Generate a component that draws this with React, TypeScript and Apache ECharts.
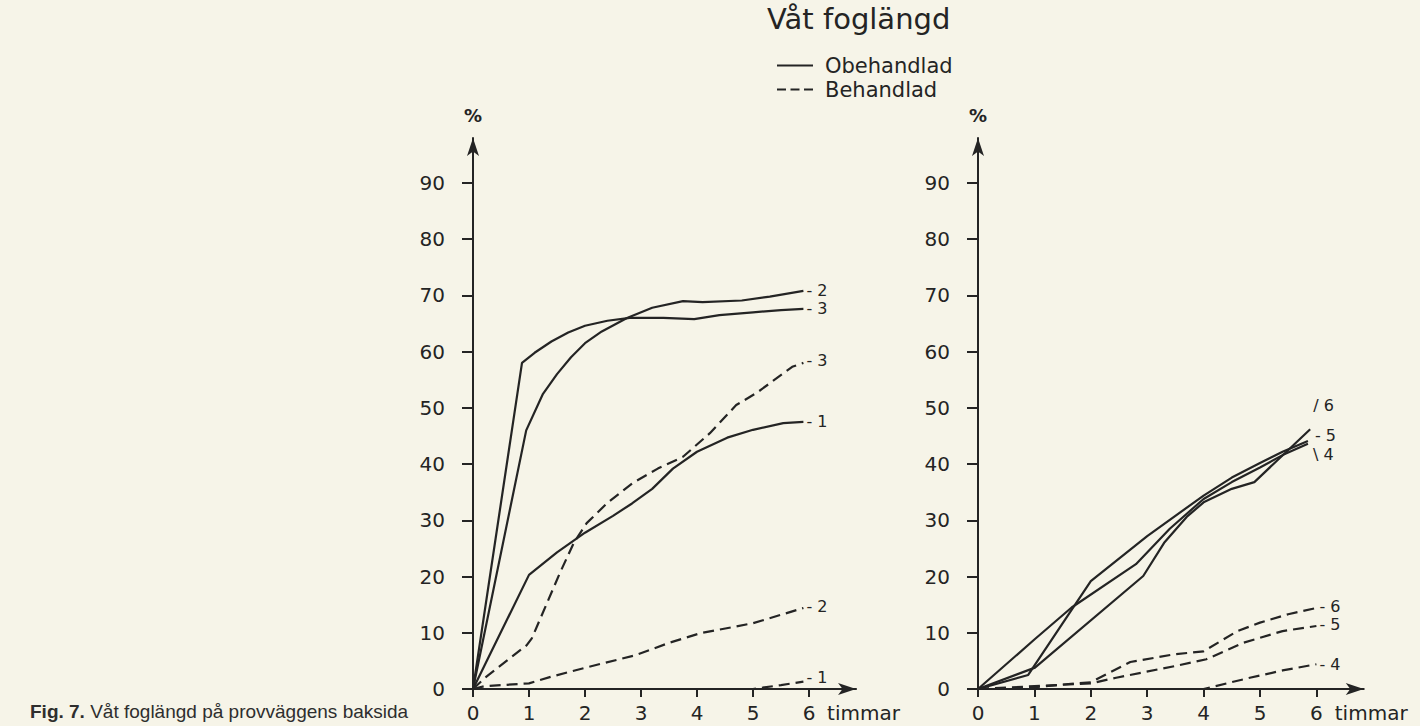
import { useEffect, useRef } from "react";
import * as echarts from "echarts";

// ---------- data (hours, percent) ----------
const hourTicks = [0, 1, 2, 3, 4, 5, 6];
const pctTicks = [0, 10, 20, 30, 40, 50, 60, 70, 80, 90];

// Left panel – Obehandlad (solid)
const leftSolid1 = [[0, 0], [1.0, 20.3], [1.5, 24.3], [2.0, 27.8], [2.5, 30.8], [2.84, 33], [3.2, 35.6], [3.57, 39.2], [4.0, 42.2], [4.54, 44.7], [5.0, 46.1], [5.54, 47.3], [5.9, 47.5]];
const leftSolid2 = [[0, 0], [0.95, 46], [1.25, 52.5], [1.5, 56], [1.75, 59], [2.0, 61.5], [2.3, 63.6], [2.75, 66], [3.2, 67.8], [3.75, 69], [4.1, 68.8], [4.8, 69.1], [5.3, 69.8], [5.9, 70.8]];
const leftSolid3 = [[0, 0], [0.875, 58], [1.1, 59.8], [1.4, 61.8], [1.7, 63.4], [2.0, 64.6], [2.4, 65.5], [2.8, 66.0], [3.4, 66.0], [3.95, 65.8], [4.4, 66.5], [5.0, 67.0], [5.5, 67.4], [5.9, 67.6]];
// Left panel – Behandlad (dashed)
const leftDash1 = [[0, 0], [5.0, 0], [5.5, 0.7], [5.9, 1.3]];
const leftDash2 = [[0, 0], [0.2, 0.5], [1.0, 1.0], [1.4, 2.2], [2.05, 3.9], [2.9, 6.0], [3.5, 8.2], [4.05, 9.9], [5.0, 11.7], [5.5, 13.2], [5.9, 14.4]];
const leftDash3 = [[0, 0], [0.24, 2.2], [0.96, 7.8], [1.05, 9], [1.55, 20.6], [1.8, 26], [2.03, 29.5], [2.4, 33.1], [2.86, 36.7], [3.3, 39.2], [3.75, 41.3], [4.23, 45.5], [4.7, 50.5], [5.07, 52.7], [5.7, 57.3], [5.9, 58]];

// Right panel – Obehandlad (solid)
const rightSolid4 = [[0, 0], [1.0, 8.8], [1.66, 14.5], [2.8, 22.2], [3.4, 28.5], [4.0, 33.8], [4.5, 36.8], [5.0, 39.4], [5.4, 41.6], [5.85, 43.6]];
const rightSolid5 = [[0, 0], [0.89, 2.5], [2.0, 19.2], [3.0, 27.2], [4.0, 34.4], [4.5, 37.6], [5.0, 40.2], [5.4, 42.2], [5.85, 44.1]];
const rightSolid6 = [[0, 0], [1.01, 3.8], [2.93, 20.1], [3.3, 26], [3.7, 30.6], [4.0, 33.2], [4.5, 35.6], [4.9, 36.8], [5.3, 40.6], [5.89, 46.2]];
// Right panel – Behandlad (dashed)
const rightDash4 = [[0, 0], [4.0, 0], [4.82, 2.0], [5.4, 3.3], [6.0, 4.4]];
const rightDash5 = [[0, 0], [1.0, 0.5], [2.0, 1.0], [2.45, 2.0], [3.5, 4.1], [4.05, 5.3], [4.7, 8.2], [5.4, 10.3], [6.0, 11.2]];
const rightDash6 = [[0, 0], [1.0, 0.3], [1.5, 0.8], [2.0, 1.2], [2.7, 4.8], [3.5, 6.2], [4.0, 6.7], [4.6, 10.3], [5.0, 11.8], [5.5, 13.3], [6.0, 14.4]];

const INK = "#242424";
const FONT = "DejaVu Sans";
const X_MAX = 6.84;
const Y_MAX = 98;

const SOLID_ICON = "path://M0,0h36v2h-36z";
const DASH_ICON = "path://M0,0h9v2h-9z M13.5,0h9v2h-9z M27,0h9v2h-9z";

function lineSeries(
  name: string,
  pts: number[][],
  panel: number,
  dashed: boolean,
  labelText: string,
  offset: number[] = [0, 0]
) {
  return {
    name,
    type: "line",
    xAxisIndex: panel,
    yAxisIndex: panel,
    showSymbol: false,
    symbol: "none",
    silent: true,
    color: INK,
    lineStyle: { color: INK, width: 2.2, type: dashed ? [11, 6] : "solid" },
    endLabel: {
      show: true,
      distance: 3,
      offset,
      formatter: labelText,
      fontFamily: FONT,
      fontSize: 16,
      color: INK,
    },
    data: pts,
  };
}

function xAxis(gridIndex: number) {
  return {
    type: "value",
    gridIndex,
    min: 0,
    max: X_MAX,
    axisLine: {
      show: true,
      onZero: false,
      symbol: ["none", "arrow"],
      symbolSize: [9, 18],
      lineStyle: { color: INK, width: 2 },
    },
    axisTick: { show: true, customValues: hourTicks, length: 8, lineStyle: { color: INK, width: 2 } },
    axisLabel: { customValues: hourTicks, margin: 14, fontSize: 20, color: INK, fontFamily: FONT },
    splitLine: { show: false },
    name: "timmar",
    nameLocation: "end",
    nameGap: -29,
    nameTextStyle: { fontSize: 20, color: INK, fontFamily: FONT, verticalAlign: "top", padding: [14, 0, 0, 0] },
  };
}

function yAxis(gridIndex: number) {
  return {
    type: "value",
    gridIndex,
    min: 0,
    max: Y_MAX,
    axisLine: {
      show: true,
      onZero: false,
      symbol: ["none", "arrow"],
      symbolSize: [9, 18],
      lineStyle: { color: INK, width: 2 },
    },
    axisTick: { show: true, customValues: pctTicks, length: 11, lineStyle: { color: INK, width: 2 } },
    axisLabel: { customValues: pctTicks, margin: 28, fontSize: 20, color: INK, fontFamily: FONT },
    splitLine: { show: false },
    name: "%",
    nameLocation: "end",
    nameGap: 14,
    nameTextStyle: { fontSize: 18, fontWeight: "bold", color: INK, fontFamily: FONT },
  };
}

export default function App() {
  const ref = useRef<HTMLDivElement>(null);

  useEffect(() => {
    document.body.style.margin = "0";
    const chart = echarts.init(ref.current!, null, { renderer: "svg" });
    chart.setOption({
      animation: false,
      backgroundColor: "#f6f4e8",
      title: {
        text: "Våt foglängd",
        left: 767,
        top: 4,
        padding: 0,
        textStyle: { fontSize: 29, fontWeight: "normal", fontFamily: FONT, color: INK },
      },
      legend: {
        left: 772,
        top: 50,
        orient: "vertical",
        itemWidth: 36,
        itemHeight: 14,
        itemGap: 3,
        selectedMode: false,
        itemStyle: { borderWidth: 0, color: INK },
        textStyle: { fontSize: 21, fontFamily: FONT, color: INK, lineHeight: 21, padding: [0, 0, 0, 7] },
        data: [
          { name: "Obehandlad", icon: SOLID_ICON },
          { name: "Behandlad", icon: DASH_ICON },
        ],
      },
      grid: [
        { left: 473, top: 138, width: X_MAX * 56, height: 551 },
        { left: 978, top: 138, width: X_MAX * 56.4, height: 551 },
      ],
      xAxis: [xAxis(0), xAxis(1)],
      yAxis: [yAxis(0), yAxis(1)],
      graphic: [
        {
          type: "text",
          left: 30,
          top: 702,
          style: {
            text: "{b|Fig. 7.} {r|Våt foglängd på provväggens baksida}",
            fontFamily: "Liberation Sans",
            fontSize: 19,
            fill: "#2e2e2e",
            rich: {
              b: { fontFamily: "Liberation Sans", fontSize: 19, fontWeight: "bold", fill: "#2e2e2e" },
              r: { fontFamily: "Liberation Sans", fontSize: 19, fill: "#2e2e2e" },
            },
          },
        },
      ],
      series: [
        { name: "Obehandlad", type: "line", data: [], color: INK, lineStyle: { color: INK, width: 2 }, xAxisIndex: 0, yAxisIndex: 0 },
        { name: "Behandlad", type: "line", data: [], color: INK, lineStyle: { color: INK, width: 2, type: "dashed" }, xAxisIndex: 0, yAxisIndex: 0 },
        lineSeries("Obehandlad 1", leftSolid1, 0, false, "- 1"),
        lineSeries("Obehandlad 2", leftSolid2, 0, false, "- 2"),
        lineSeries("Obehandlad 3", leftSolid3, 0, false, "- 3"),
        lineSeries("Behandlad 1", leftDash1, 0, true, "- 1", [0, -4]),
        lineSeries("Behandlad 2", leftDash2, 0, true, "- 2", [0, -2]),
        lineSeries("Behandlad 3", leftDash3, 0, true, "- 3", [0, -2]),
        lineSeries("Obehandlad 4", rightSolid4, 1, false, "\\ 4", [2, 11]),
        lineSeries("Obehandlad 5", rightSolid5, 1, false, "- 5", [4, -6]),
        lineSeries("Obehandlad 6", rightSolid6, 1, false, "/ 6", [0, -24]),
        lineSeries("Behandlad 4", rightDash4, 1, true, "- 4"),
        lineSeries("Behandlad 5", rightDash5, 1, true, "- 5", [0, -2]),
        lineSeries("Behandlad 6", rightDash6, 1, true, "- 6", [0, -2]),
      ],
    });
    return () => chart.dispose();
  }, []);

  return <div ref={ref} style={{ position: "fixed", left: 0, top: 0, width: 1420, height: 726 }} />;
}
